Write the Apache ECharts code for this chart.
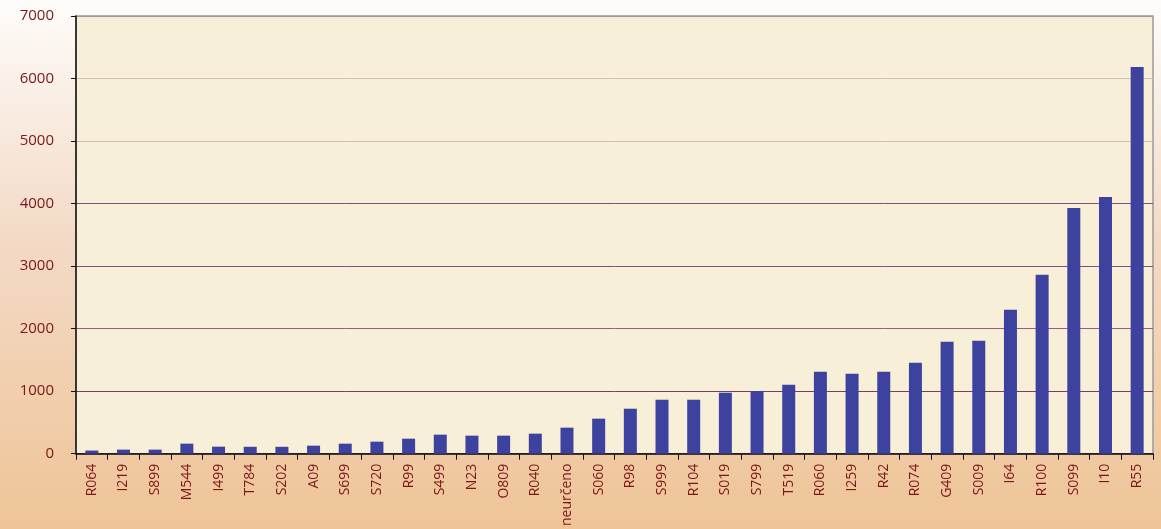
<!DOCTYPE html>
<html><head><meta charset="utf-8">
<script src="https://cdn.jsdelivr.net/npm/echarts@6/dist/echarts.min.js"></script>
<style>html,body{margin:0;padding:0;}#c{width:1161px;height:529px;}</style>
</head><body><div id="c"></div>
<script>
const categories = ['R064','I219','S899','M544','I499','T784','S202','A09','S699','S720','R99','S499','N23','O809','R040','neurčeno','S060','R98','S999','R104','S019','S799','T519','R060','I259','R42','R074','G409','S009','I64','R100','S099','I10','R55'];
const values = [50,65,65,160,112,110,110,128,160,192,240,304,288,288,320,416,560,719,863,863,975,1000,1103,1310,1278,1310,1454,1790,1806,2301,2860,3930,4107,6185];
const yTicks = [0,1000,2000,3000,4000,5000,6000,7000];

const chart = echarts.init(document.getElementById('c'));
chart.setOption({
  backgroundColor: {type:'linear',x:0,y:0,x2:0,y2:1,colorStops:[{offset:0,color:'#fefcfa'},{offset:0.45,color:'#f3dac6'},{offset:1,color:'#efc497'}]},
  animation:false,
  grid:{left:76,right:8,top:16,bottom:75,show:true,backgroundColor:'#f8efd8',borderColor:'#9a9a9a',borderWidth:1.5},
  xAxis:{type:'category',data:categories,
    axisLine:{lineStyle:{color:'#111',width:1.5}},
    axisTick:{show:true,alignWithLabel:false,length:6,lineStyle:{color:'#111'}},
    axisLabel:{rotate:90,color:'#7a1616',fontSize:14,fontFamily:'Open Sans',margin:10,interval:0}},
  yAxis:{type:'value',min:yTicks[0],max:yTicks[yTicks.length-1],interval:1000,
    axisLine:{show:true,lineStyle:{color:'#111',width:1.5}},
    axisTick:{show:true,length:5,lineStyle:{color:'#111'}},
    axisLabel:{color:'#7a1616',fontSize:15,fontFamily:'Open Sans',margin:22,formatter:v=>String(v)},
    splitLine:{show:true,lineStyle:{color:['#7a3a6a','#7a3a6a','#9a5a8e','#8a4a88','#8a4a88','#d6bcb4','#d6bcb4','#9a9a9a'],width:1}}},
  series:[{type:'bar',data:values,barWidth:13,itemStyle:{color:'#3d429e'}}]
});
</script></body></html>
